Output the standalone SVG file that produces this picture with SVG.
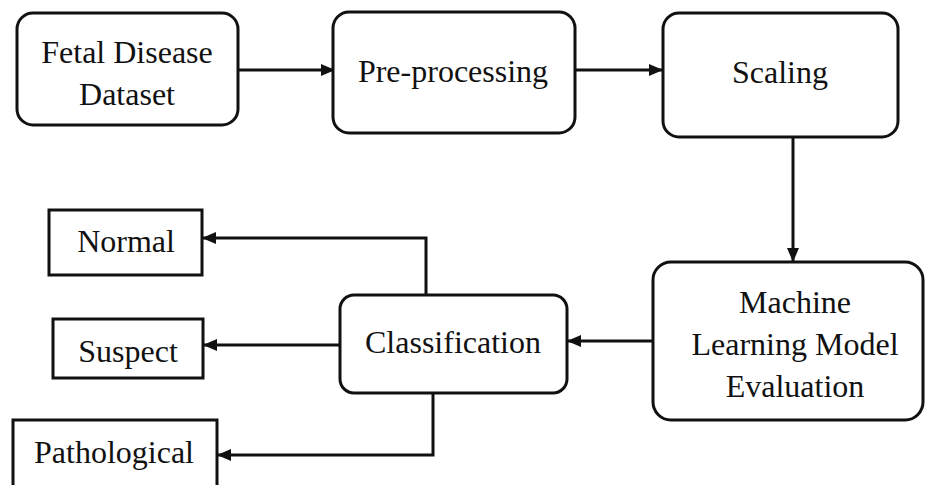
<svg xmlns="http://www.w3.org/2000/svg" width="926" height="485" viewBox="0 0 926 485">
<style>
.box{fill:#fff;stroke:#111;stroke-width:3}
.t{font-family:"Liberation Serif","Times New Roman",serif;font-size:32px;fill:#111;text-anchor:middle}
.c{fill:none;stroke:#111;stroke-width:3}
</style>
<defs>
<marker id="ah" viewBox="0 0 14 12" refX="13" refY="6" markerWidth="14" markerHeight="12" markerUnits="userSpaceOnUse" orient="auto">
<path d="M0,0 L14,6 L0,12 Z" fill="#111"/>
</marker>
</defs>
<rect width="926" height="485" fill="#fff"/>
<g id="connectors">
<path class="c" d="M238,70 H334" marker-end="url(#ah)"/>
<path class="c" d="M575,70 H662" marker-end="url(#ah)"/>
<path class="c" d="M793,137 V261" marker-end="url(#ah)"/>
<path class="c" d="M653,341 H568" marker-end="url(#ah)"/>
<path class="c" d="M426,295 V238 H203" marker-end="url(#ah)"/>
<path class="c" d="M340,345 H204" marker-end="url(#ah)"/>
<path class="c" d="M433,393 V455 H218" marker-end="url(#ah)"/>
</g>
<g id="fetal">
<rect class="box" x="17" y="13" width="221" height="112" rx="16"/>
<text class="t" x="127" y="63">Fetal Disease</text>
<text class="t" x="127" y="105">Dataset</text>
</g>
<g id="preprocessing">
<rect class="box" x="333" y="12" width="242" height="121" rx="16"/>
<text class="t" x="453" y="82">Pre-processing</text>
</g>
<g id="scaling">
<rect class="box" x="663" y="13" width="235" height="124" rx="16"/>
<text class="t" x="780" y="83">Scaling</text>
</g>
<g id="ml">
<rect class="box" x="653" y="262" width="270" height="158" rx="18"/>
<text class="t" x="795" y="313">Machine</text>
<text class="t" x="795" y="355">Learning Model</text>
<text class="t" x="795" y="397">Evaluation</text>
</g>
<g id="classification">
<rect class="box" x="340" y="295" width="227" height="98" rx="14"/>
<text class="t" x="453" y="353">Classification</text>
</g>
<g id="normal">
<rect class="box" x="49" y="210" width="153" height="65"/>
<text class="t" x="126" y="252">Normal</text>
</g>
<g id="suspect">
<rect class="box" x="53" y="319" width="150" height="59"/>
<text class="t" x="128" y="362">Suspect</text>
</g>
<g id="pathological">
<rect class="box" x="13" y="420" width="204" height="80"/>
<text class="t" x="114" y="463">Pathological</text>
</g>
</svg>
